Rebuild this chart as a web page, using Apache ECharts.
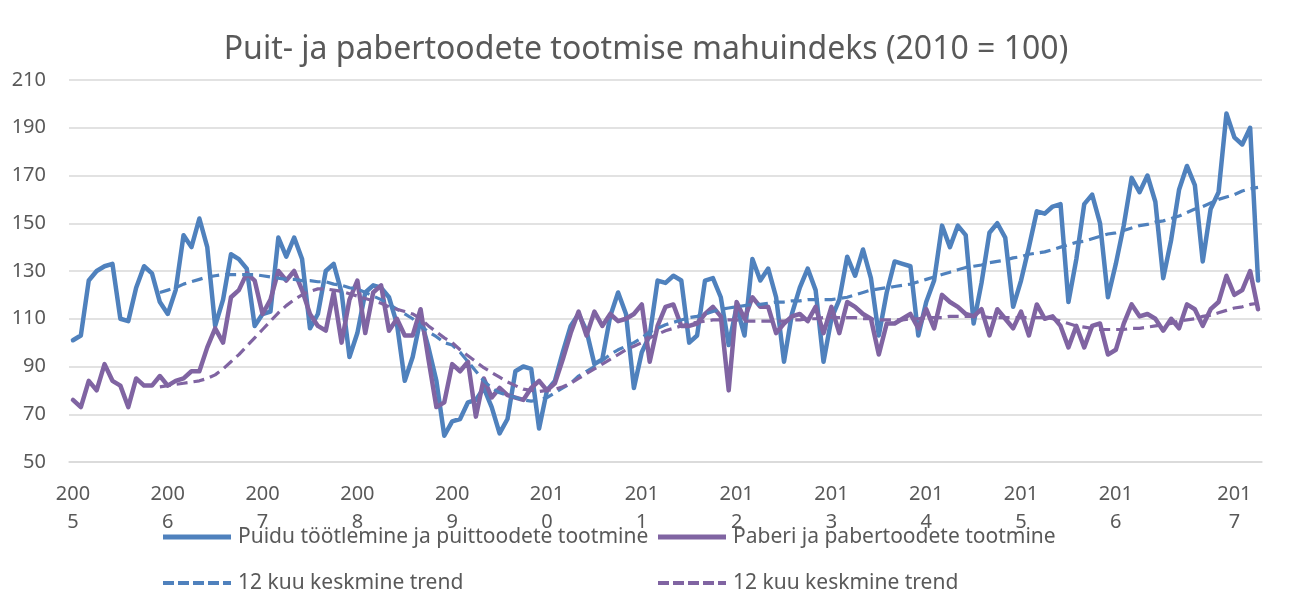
<!DOCTYPE html>
<html>
<head>
<meta charset="utf-8">
<script src="https://cdn.jsdelivr.net/npm/echarts@6/dist/echarts.min.js"></script>
<style>
html,body{margin:0;padding:0;background:#fff;}
#frame{position:absolute;left:6px;top:0;width:1286px;height:614px;border-left:1.5px solid #d9d9d9;}
#chart{position:absolute;left:0;top:0;width:1292px;height:614px;}
</style>
</head>
<body>
<div id="frame"></div>
<div id="chart"></div>
<script>
// ---- data (monthly, Jan 2005 – Jul 2017) ----
const years = ['2005','2006','2007','2008','2009','2010','2011','2012','2013','2014','2015','2016','2017'];
const tickLabels = ['2005','2006','2007','2008','2009','2010','2011','2012','2013','2014','2015','2016','2017'];
const tickIndex = [0,12,24,36,48,60,72,84,96,108,120,132,147];

const wood = [
101,103,126,130,132,133,110,109,123,132,129,117,
112,122,145,140,152,140,107,118,137,135,131,107,
112,113,144,136,144,135,106,112,130,133,121,94,
104,121,124,123,119,108,84,94,110,98,84,61,
67,68,75,76,81,73,62,68,88,90,89,64,
80,84,96,107,112,105,91,93,111,121,112,81,
96,103,126,125,128,126,100,103,126,127,119,99,
115,103,135,126,131,119,92,112,123,131,122,92,
110,118,136,128,139,127,103,121,134,133,132,103,
117,126,149,140,149,145,108,125,146,150,144,115,
126,140,155,154,157,158,117,135,158,162,150,119,
133,149,169,163,170,159,127,143,164,174,166,134,
156,163,196,186,183,190,126
];

const paper = [
76,73,84,80,91,84,82,73,85,82,82,86,
82,84,85,88,88,98,106,100,119,122,129,126,
112,118,130,126,130,122,112,107,105,121,100,118,
126,104,121,124,105,110,103,103,114,93,73,75,
91,88,92,69,85,77,81,78,77,76,81,84,
80,83,93,104,113,103,113,107,112,109,110,112,
116,92,107,115,116,107,107,108,112,115,111,80,
117,110,119,115,115,104,108,111,112,109,115,104,
115,104,117,115,112,110,95,108,108,110,112,106,
114,106,120,117,115,112,111,114,103,114,110,106,
113,103,116,110,111,107,98,107,98,107,108,95,
97,108,116,111,112,110,105,110,106,116,114,107,
114,117,128,120,122,130,114
];

const woodTrend = [
null,null,null,null,null,null,null,null,null,null,null,121,
122,123,124.5,125.5,126.5,127.5,128,128.5,128.5,128.5,128.5,128.5,
128,127.5,127,126.5,126.5,126,126,125.5,125.5,124.5,124,123,
122.5,121,119.5,118,116,114,112,110,107,104.5,102.5,100,
99,96,92,88,84,81,79,78,77,76,75.5,76,
77,79,81,83,86,88,90,92.5,95,97,98.5,100,
102,104.5,106,107.5,108.5,109.5,110.5,111,112,113,114,114.5,
115,115.5,116,116,116.5,117,117,117.5,117.5,118,118,118,
118,118.5,119,120,121,122,122.5,123,123.5,124,124.5,125.5,
126.5,127.5,128.5,129.5,130.5,131.5,132,132.5,133.5,134,134.5,135.5,
136,137,137.5,138,139,140,141,142,142.5,143.5,144.5,145.5,
146,147,148,149,149.5,150.5,151,152,153,154.5,156,157,
158.5,160,161,162,163.5,164.5,165
];

const paperTrend = [
null,null,null,null,null,null,null,null,null,null,null,81.5,
82,82.5,83,83.5,84,85,86.5,89,92,95,98.5,102,
105.5,109,112.5,115.5,118,120,121.5,122.5,122.5,122,121.5,120.5,
119.5,118.5,117.5,116.5,115,114,113,112,110,107,104.5,102,
100,97,94.5,92,89.5,87.5,85.5,83.5,82,80.5,80,79.5,
80,80.5,81.5,83,85,87,89,91,93,95,97,98.5,
100,102,103.5,105,106,107,108,108.5,109,109.5,109.5,109.5,
109.5,109,109,109,109,109,109,109.5,109.5,110,110,110.5,
110.5,110.5,110.5,110.5,110,110,109.5,109.5,109.5,109.5,110,110,
110.5,110.5,110.5,111,111,111,111,111,110.5,110.5,110.5,110.5,
110.5,110.5,110.5,110.5,110,109,108,107,106.5,106,105.5,105.5,
105.5,105.5,106,106,106.5,107,107.5,108,109,109.5,110,111,
111.5,112.5,113.5,114.5,115,116,116.5
];

const seriesNames = ['Puidu töötlemine ja puittoodete tootmine','Paberi ja pabertoodete tootmine','12 kuu keskmine trend'];
const yTicks = {min:50, max:210, step:20};

// ---- build categories ----
const categories = [];
years.forEach(y => { for (let m = 1; m <= 12; m++) categories.push(y + '-' + (m < 10 ? '0' + m : m)); });
categories.length = wood.length;

const BLUE = '#4F81BD', PURPLE = '#8064A2';
const FONT = 'Noto Sans';
const SOLID_ICON = 'path://M0,0H68V5H0Z';
const DASH_ICON = 'path://M0,0H11V4H0Z M15,0H26V4H15Z M30,0H41V4H30Z M45,0H56V4H45Z M60,0H68V4H60Z';
const chart = echarts.init(document.getElementById('chart'), null, {renderer:'canvas'});

function legendAt(name, left, top, icon, h, fmt){
  return {data:[{name:name, icon:icon}], left:left, top:top, itemWidth:68, itemHeight:h, itemGap:0,
    padding:0, selectedMode:false, symbolKeepAspect:false,
    formatter: fmt || undefined,
    textStyle:{fontFamily:FONT, fontSize:21, color:'#595959', lineHeight:26, padding:[0,0,0,2]}};
}

chart.setOption({
  animation:false,
  backgroundColor:'#ffffff',
  title:{text:'Puit- ja pabertoodete tootmise mahuindeks (2010 = 100)', left:'center', top:29,
    textStyle:{fontFamily:FONT, fontSize:32, fontWeight:'normal', color:'#595959'}},
  grid:{left:69, right:30, top:80, bottom:152, containLabel:false},
  legend:[
    legendAt(seriesNames[0], 163, 524, SOLID_ICON, 5),
    legendAt(seriesNames[1], 658, 524, SOLID_ICON, 5),
    legendAt('trendW', 163, 570, DASH_ICON, 4, () => seriesNames[2]),
    legendAt('trendP', 658, 570, DASH_ICON, 4, () => seriesNames[2])
  ],
  xAxis:{type:'category', data:categories, boundaryGap:true,
    axisLine:{show:true, lineStyle:{color:'#d9d9d9', width:1.5}},
    axisTick:{show:false},
    axisLabel:{interval:(i) => tickIndex.indexOf(i) >= 0,
      formatter:(v, i) => { const k = tickIndex.indexOf(i); if (k < 0) return ''; const t = tickLabels[k]; return t.slice(0,3) + '\n' + t.slice(3); },
      fontFamily:FONT, fontSize:20, color:'#595959', lineHeight:28, margin:18, hideOverlap:false},
    splitLine:{show:false}},
  yAxis:{type:'value', min:yTicks.min, max:yTicks.max, interval:yTicks.step,
    axisLine:{show:false}, axisTick:{show:false},
    axisLabel:{fontFamily:FONT, fontSize:20, color:'#595959', margin:23},
    splitLine:{lineStyle:{color:'#d9d9d9', width:1.5}}},
  series:[
    {name:seriesNames[0], type:'line', data:wood, symbol:'none', color:BLUE,
      lineStyle:{width:4.5, color:BLUE, join:'round', cap:'round'}},
    {name:seriesNames[1], type:'line', data:paper, symbol:'none', color:PURPLE,
      lineStyle:{width:4.5, color:PURPLE, join:'round', cap:'round'}},
    {name:'trendW', type:'line', data:woodTrend, symbol:'none', color:BLUE, connectNulls:false,
      lineStyle:{width:3.2, color:BLUE, type:[11,6]}},
    {name:'trendP', type:'line', data:paperTrend, symbol:'none', color:PURPLE, connectNulls:false,
      lineStyle:{width:3.2, color:PURPLE, type:[11,6]}}
  ]
});
</script>
</body>
</html>
